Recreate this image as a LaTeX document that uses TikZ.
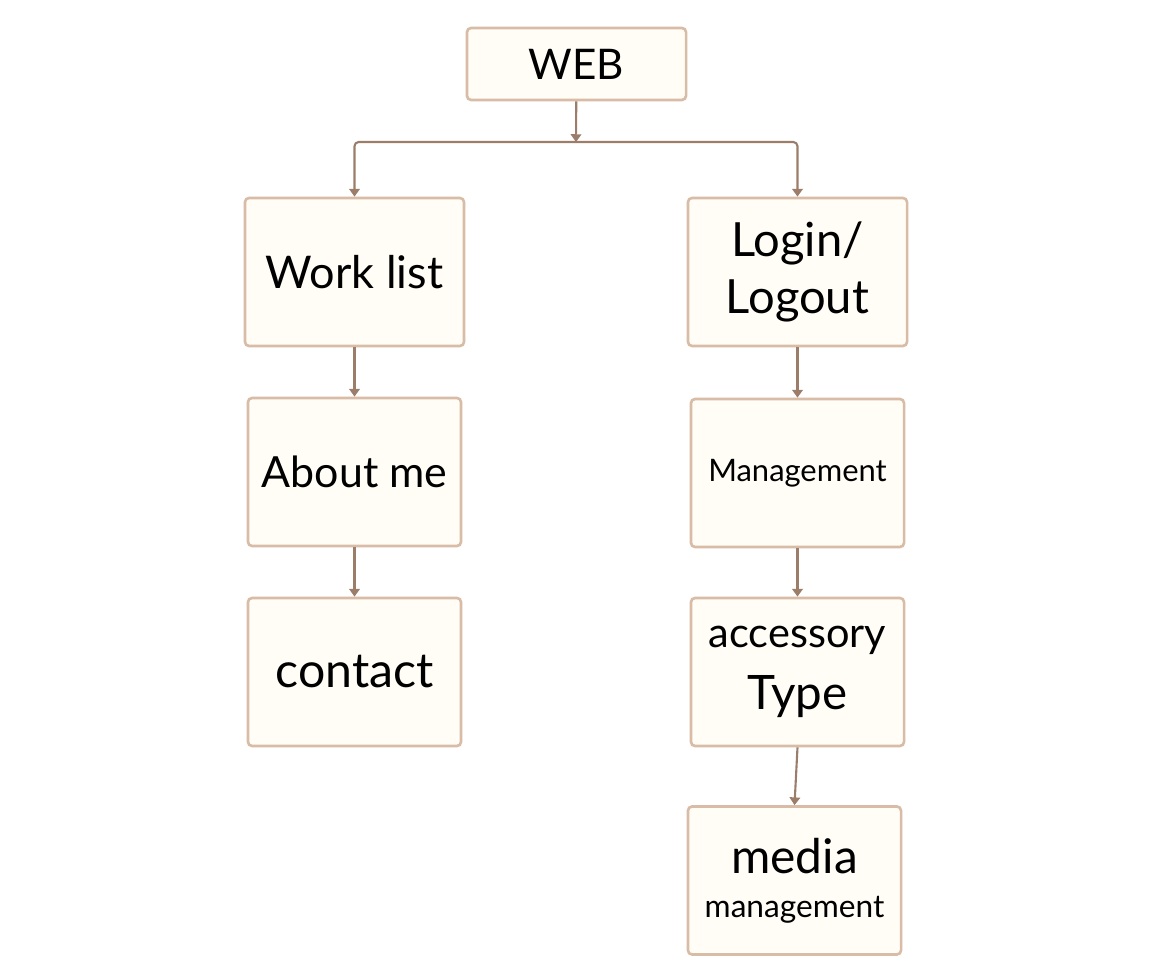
\documentclass[tikz,border=0pt]{standalone}
\usepackage{fontspec}
\setmainfont{Lato}
\usepackage{xcolor}
\usetikzlibrary{arrows.meta, positioning}

\definecolor{boxfill}{HTML}{FFFDF6}
\definecolor{boxline}{HTML}{D9BCA6}
\definecolor{linkcol}{HTML}{9C7D6A}

\newcommand{\fs}[1]{\fontsize{#1}{#1}\selectfont}

\tikzset{
    box/.style={draw=boxline, fill=boxfill, line width=0.75pt, rounded corners=1.2pt,
        minimum width=2.13cm, minimum height=1.48cm, align=center, inner sep=0pt,
        font=\fs{12.5}},
    link/.style={draw=linkcol, line width=0.6pt, -{Triangle[width=3pt,length=2.2pt]}}
}

\begin{document}
\begin{tikzpicture}[x=0.01cm, y=-0.01cm]
        \useasboundingbox (0,0) rectangle (1166,980);

        \node[box, minimum width=2.19cm, minimum height=0.72cm, font=\fs{12}] (web) at (576.5, 64) {WEB};
        \node[box, minimum width=2.19cm, font=\fs{12.8}] (worklist) at (354.5, 272) {Work list};
        \node[box, minimum width=2.19cm, font=\fs{13.4}] (login) at (797.5, 272) {Login/\\[3pt]Logout};
        \node[box, font=\fs{12.2}] (about) at (354.5, 472) {About me};
        \node[box, font=\fs{13.7}] (contact) at (354.5, 672) {contact};
        \node[box, font=\fs{8.8}] (manage) at (797.5, 473) {Management};
        \node[box, font=\fs{11.8}] (access) at (797.5, 672) {accessory\\[6pt]{\fs{13.5}Type}};
        \node[box, font=\fs{13.6}] (media) at (794.5, 880.5) {media\\[-1pt]{\fs{9}management}};

        \coordinate (split) at (576, 142);

        \draw[link] (web) to (split);
        \draw[link, rounded corners=1.2pt] (split) -| (worklist.north);
        \draw[link, rounded corners=1.2pt] (split) -| (login.north);
        \draw[link] (worklist) to (about);
        \draw[link] (about) to (contact);
        \draw[link] (login) to (manage);
        \draw[link] (manage) to (access);
        \draw[link] (access.south) to (media.north);
\end{tikzpicture}
\end{document}
